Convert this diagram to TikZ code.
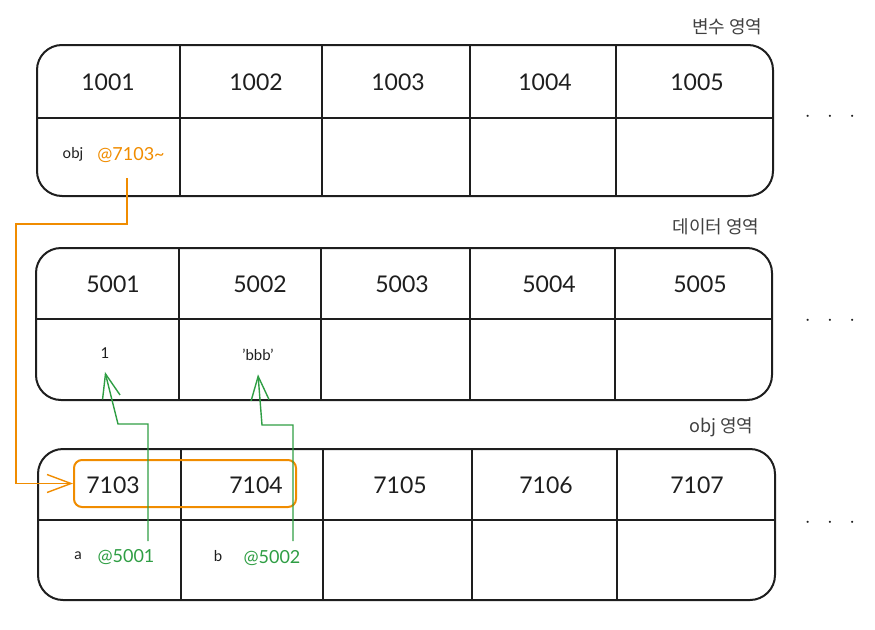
\documentclass[tikz,border=0pt]{standalone}
\usepackage{fontspec}
\setmainfont{Lato}
\newfontfamily\krfont{Noto Sans CJK KR}
\usetikzlibrary{arrows.meta}
\definecolor{inkDark}{HTML}{1E1E1E}
\definecolor{ptrOrange}{HTML}{F08C00}
\definecolor{refGreen}{HTML}{2F9E44}
\begin{document}
\begin{tikzpicture}[x=1pt,y=-1pt,
    memBox/.style={draw=inkDark,line width=2pt,rounded corners=25pt},
    memLine/.style={draw=inkDark,line width=2pt},
    addrText/.style={font=\fontsize{23}{27}\selectfont,text=inkDark},
    valText/.style={font=\fontsize{15}{18}\selectfont,text=inkDark},
    ptrText/.style={font=\fontsize{18}{21}\selectfont},
    areaLabel/.style={font=\krfont\fontsize{18}{21}\selectfont,text=inkDark!85,anchor=east},
    moreDots/.style={font=\fontsize{20}{20}\selectfont,text=inkDark},
    ptrArr/.style={draw=ptrOrange,line width=1.4pt,-{Straight Barb[length=12pt,width=9pt,scale=2]}},
    refArr/.style={draw=refGreen,line width=1.4pt,-{Straight Barb[length=12pt,width=9pt,scale=2]}},
]
\useasboundingbox (0,0) rectangle (875,629);
% variable area
\draw[memBox] (37,45) rectangle (773,196);
\draw[memLine] (37,118) -- (773,118);
\draw[memLine] (180,45) -- (180,196) (322,45) -- (322,196) (470,45) -- (470,196) (616,45) -- (616,196);
\node[areaLabel] (varLbl) at (766,27) {변수 영역};
\node[addrText] (var1) at (108,82) {1001};
\node[addrText] (var2) at (256,82) {1002};
\node[addrText] (var3) at (398,82) {1003};
\node[addrText] (var4) at (545,82) {1004};
\node[addrText] (var5) at (697,82) {1005};
\node[valText] (objName) at (73,154) {obj};
\node[ptrText,text=ptrOrange] (ptr) at (131,155) {@7103\textasciitilde};
\node[moreDots] (varMore) at (830,117) {$\cdot\hspace{12pt}\cdot\hspace{12pt}\cdot$};
% data area
\draw[memBox] (36,248) rectangle (772,400);
\draw[memLine] (36,319) -- (772,319);
\draw[memLine] (179,248) -- (179,400) (321,248) -- (321,400) (470,248) -- (470,400) (615,248) -- (615,400);
\node[areaLabel] (datLbl) at (763,227) {데이터 영역};
\node[addrText] (dat1) at (113,284) {5001};
\node[addrText] (dat2) at (260,284) {5002};
\node[addrText] (dat3) at (402,284) {5003};
\node[addrText] (dat4) at (549,284) {5004};
\node[addrText] (dat5) at (700,284) {5005};
\node[valText] (val1) at (105,353) {1};
\node[valText] (val2) at (258,355) {'bbb'};
\node[moreDots] (datMore) at (830,321) {$\cdot\hspace{12pt}\cdot\hspace{12pt}\cdot$};
% obj area
\draw[memBox] (38,449) rectangle (775,600);
\draw[memLine] (38,520) -- (775,520);
\draw[memLine] (181,449) -- (181,600) (323,449) -- (323,600) (472,449) -- (472,600) (617,449) -- (617,600);
\node[areaLabel] (objLbl) at (757,427) {obj 영역};
\node[addrText] (obj1) at (113,485) {7103};
\node[addrText] (obj2) at (256,485) {7104};
\node[addrText] (obj3) at (400,485) {7105};
\node[addrText] (obj4) at (546,485) {7106};
\node[addrText] (obj5) at (697,485) {7107};
\node[draw=ptrOrange,line width=2pt,rounded corners=8pt,minimum width=222pt,minimum height=47pt] (objGrp) at (185,483.5) {};
\node[valText] (aName) at (78,556) {a};
\node[ptrText,text=refGreen] (aRef) at (126,557) {@5001};
\node[valText] (bName) at (218,556) {b};
\node[ptrText,text=refGreen] (bRef) at (272,558) {@5002};
\node[moreDots] (objMore) at (830,523) {$\cdot\hspace{12pt}\cdot\hspace{12pt}\cdot$};
% pointers
\coordinate (ptrFrom) at (127,178);
\coordinate (aFrom) at (148,541);
\coordinate (bFrom) at (293,541);
\draw[ptrArr] (ptrFrom) |- (16,224) |- (objGrp.west);
\draw[refArr] (aFrom) |- (118,424) -- ([yshift=-10pt]val1.south);
\draw[refArr] (bFrom) |- (262,425) -- ([yshift=-10pt]val2.south);
\end{tikzpicture}
\end{document}
